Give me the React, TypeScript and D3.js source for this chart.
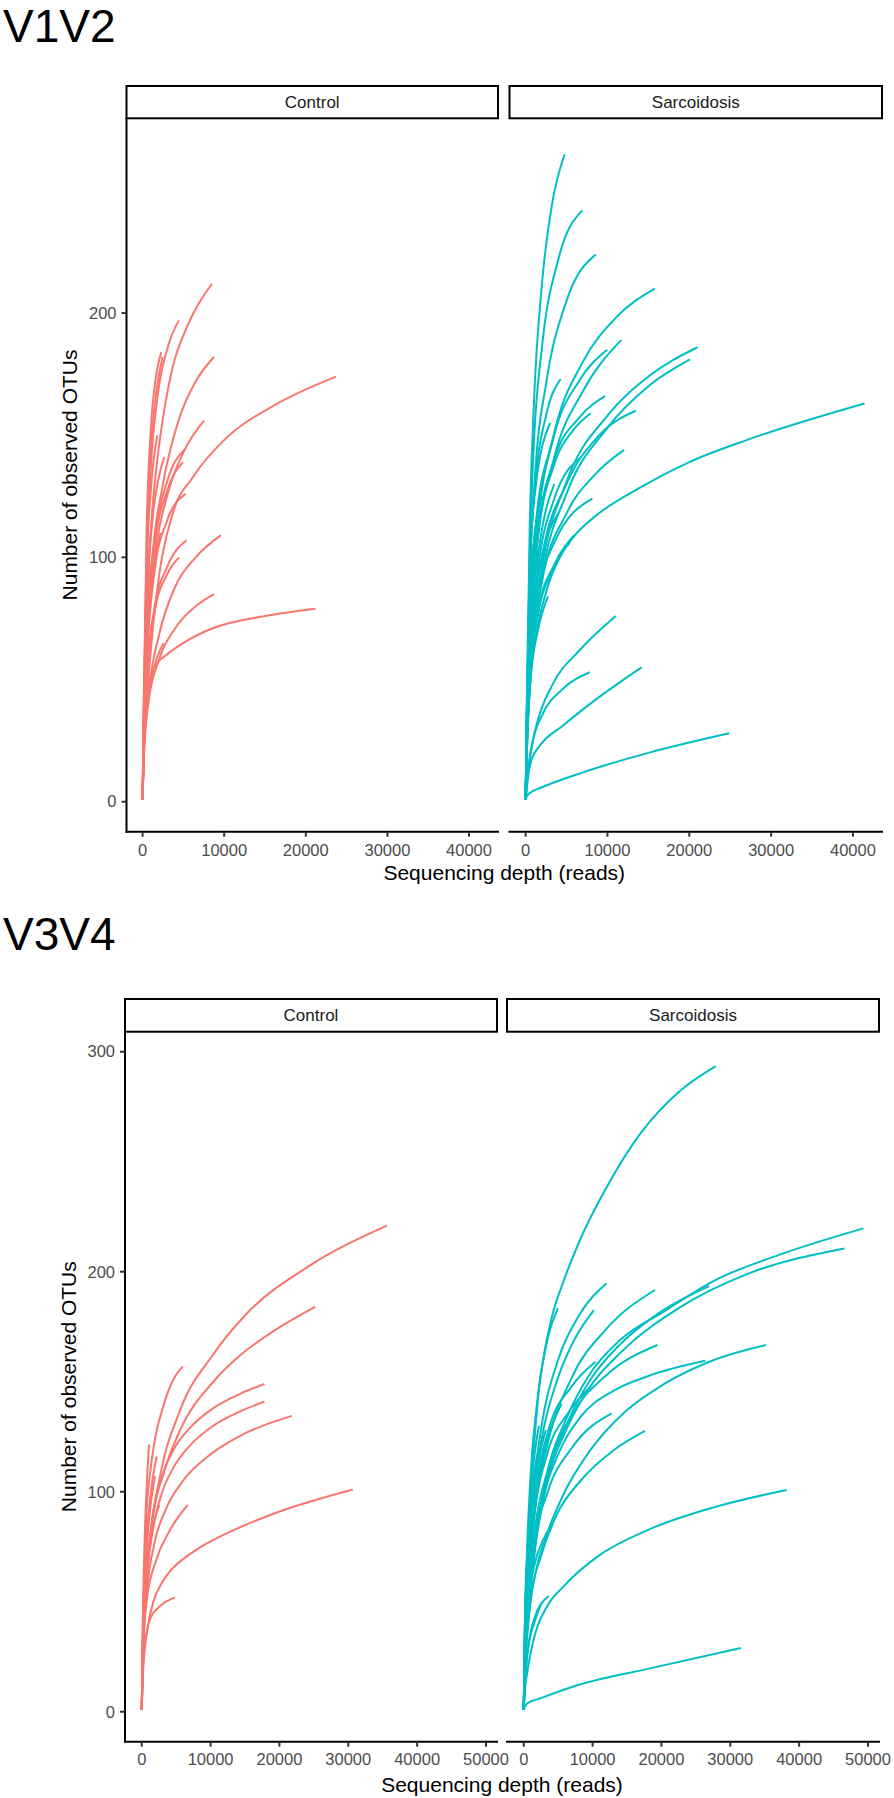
import React from 'react';
import * as d3 from 'd3';

type Pt = [number, number];
type Curve = Pt[];

const groups = ['Control', 'Sarcoidosis'];
const groupColors = ['#F8766D', '#00BFC4'];
const regionTitles = ['V1V2', 'V3V4'];
const xAxisTitle = 'Sequencing depth (reads)';
const yAxisTitle = 'Number of observed OTUs';
const v12XTicks = [0, 10000, 20000, 30000, 40000];
const v12YTicks = [0, 100, 200];
const v34XTicks = [0, 10000, 20000, 30000, 40000, 50000];
const v34YTicks = [0, 100, 200, 300];

// V1V2 – Control: [sequencing depth, observed OTUs]
const v12Control: Curve[] = [
  [[1, 1], [150, 32], [500, 78], [1100, 115], [1700, 137], [2500, 157], [3700, 178], [5400, 194], [8500, 212]],
  [[1, 1], [150, 36], [500, 96], [1000, 136], [1800, 165], [3000, 185], [4440, 197]],
  [[1, 1], [150, 42], [500, 112], [1000, 152], [1600, 173], [2300, 184]],
  [[1, 1], [150, 40], [500, 104], [1000, 143], [1700, 168], [2450, 182]],
  [[1, 1], [150, 28], [500, 64], [1200, 100], [2500, 130], [4500, 157], [6500, 172], [8760, 182]],
  [[1, 1], [150, 24], [900, 58], [2000, 92], [3700, 118], [6200, 133], [10300, 149], [16000, 162], [23700, 174]],
  [[1, 1], [150, 26], [600, 66], [1500, 100], [3000, 125], [5000, 143], [7535, 156]],
  [[1, 1], [150, 30], [600, 76], [1500, 108], [3000, 131], [5090, 144]],
  [[1, 1], [150, 32], [600, 86], [1200, 115], [2000, 133], [2645, 141]],
  [[1, 1], [150, 26], [600, 70], [1500, 105], [3000, 127], [4966, 139]],
  [[1, 1], [150, 24], [600, 62], [1500, 95], [3000, 115], [5257, 126]],
  [[1, 1], [150, 22], [600, 55], [1500, 80], [3000, 96], [5380, 107]],
  [[1, 1], [150, 22], [600, 54], [1500, 78], [3000, 93], [4474, 100]],
  [[1, 1], [150, 20], [800, 46], [2000, 68], [4000, 88], [6500, 100], [9572, 109]],
  [[1, 1], [150, 18], [700, 40], [2000, 58], [4000, 71], [6500, 80], [8753, 85]],
  [[1, 1], [150, 22], [490, 42], [900, 51], [1600, 56], [2900, 60], [5000, 65], [8600, 71], [15000, 76], [21186, 79]],
  [[1, 1], [150, 18], [600, 40], [1500, 56], [2604, 65]],
  [[1, 1], [150, 36], [500, 96], [1000, 127], [1800, 150]],
  [[1, 1], [150, 32], [500, 80], [900, 105], [1300, 120]],
  [[1, 1], [150, 28], [500, 70], [1000, 95]],
  [[1, 1], [150, 26], [600, 68], [1400, 95], [2200, 110]],
];

// V1V2 – Sarcoidosis
const v12Sarcoidosis: Curve[] = [
  [[1, 1], [150, 42], [500, 112], [1000, 162], [2000, 212], [3200, 244], [4774, 265]],
  [[1, 1], [150, 38], [500, 100], [1000, 146], [2000, 186], [4000, 222], [6935, 242]],
  [[1, 1], [150, 35], [500, 90], [1200, 136], [2500, 171], [5000, 205], [8568, 224]],
  [[1, 1], [150, 30], [600, 80], [1500, 116], [3500, 151], [7000, 180], [11000, 198], [15790, 210]],
  [[1, 1], [150, 28], [600, 75], [1500, 108], [3500, 141], [7000, 168], [11710, 189]],
  [[1, 1], [150, 30], [600, 80], [1500, 115], [3500, 150], [6500, 172], [9955, 185]],
  [[1, 1], [150, 25], [800, 66], [2000, 96], [5000, 131], [10000, 158], [15000, 174], [21010, 186]],
  [[1, 1], [150, 24], [800, 62], [2000, 92], [5000, 126], [10000, 153], [15000, 170], [20073, 181]],
  [[1, 1], [150, 36], [500, 92], [1200, 131], [2500, 158], [4284, 173]],
  [[1, 1], [150, 20], [600, 50], [1500, 72], [2800, 89], [4330, 101], [6000, 109], [8570, 117], [14200, 129], [20000, 139], [27000, 148], [41413, 163]],
  [[1, 1], [150, 28], [600, 75], [1500, 110], [3500, 140], [6500, 157], [9710, 166]],
  [[1, 1], [150, 25], [700, 68], [2000, 100], [5000, 130], [9000, 150], [13464, 160]],
  [[1, 1], [150, 28], [600, 75], [1500, 108], [3500, 138], [5800, 152], [7956, 159]],
  [[1, 1], [150, 22], [700, 60], [2000, 90], [5000, 118], [8500, 134], [12037, 144]],
  [[1, 1], [150, 25], [600, 65], [1500, 95], [3500, 124], [6813, 141]],
  [[1, 1], [150, 22], [600, 58], [1500, 84], [3500, 106], [8164, 124]],
  [[1, 1], [150, 22], [600, 55], [1500, 78], [3500, 97], [5916, 109]],
  [[1, 1], [150, 20], [600, 52], [1500, 76], [3200, 94], [5400, 106]],
  [[1, 1], [150, 8], [500, 18], [1300, 31], [3300, 48], [6600, 62], [11016, 76]],
  [[1, 1], [150, 7], [400, 15], [900, 25], [2100, 36], [4500, 46], [7833, 53]],
  [[1, 1], [150, 6], [700, 17], [1750, 23], [4500, 31], [8650, 42], [14162, 55]],
  [[1, 1], [200, 2.5], [600, 3.8], [1700, 5.5], [7000, 12], [15000, 20], [24884, 28]],
  [[1, 1], [150, 22], [600, 50], [1500, 70], [2731, 84]],
  [[1, 1], [150, 34], [500, 82], [1200, 112], [2000, 125]],
  [[1, 1], [150, 38], [500, 95], [1200, 128], [3000, 155]],
  [[1, 1], [150, 30], [500, 70], [1000, 92], [1500, 103]],
  [[1, 1], [150, 28], [600, 70], [1500, 100], [3500, 130]],
  [[1, 1], [150, 26], [500, 62], [1000, 85]],
  [[1, 1], [150, 32], [500, 80], [1200, 112], [2600, 140]],
  [[1, 1], [150, 26], [600, 64], [1500, 92], [4000, 118]],
];

// V3V4 – Control
const v34Control: Curve[] = [
  [[1, 1], [230, 33], [1200, 78], [2660, 107], [5570, 137], [10400, 162.5], [15260, 181], [24000, 202], [35610, 221]],
  [[1, 1], [200, 30], [1450, 86], [3140, 108], [5570, 128], [10400, 150], [14300, 162], [18650, 172], [25189, 184]],
  [[1, 1], [200, 40], [625, 86], [1200, 108], [1930, 124], [3140, 139], [4590, 151], [5959, 157]],
  [[1, 1], [200, 32], [800, 66], [1800, 92], [2660, 104], [4600, 119], [7000, 129], [10400, 138], [14300, 144.5], [17820, 149]],
  [[1, 1], [200, 30], [800, 62], [1800, 86], [3000, 100], [4600, 111], [7000, 121], [10400, 130], [14300, 136.5], [17820, 141]],
  [[1, 1], [200, 28], [800, 56], [1800, 76], [3500, 92], [6000, 105], [10000, 117], [15000, 126.5], [21802, 134.5]],
  [[1, 1], [230, 20], [960, 40], [1690, 50], [3000, 59], [4590, 65.5], [6500, 70.5], [9450, 76.5], [14000, 83.5], [19130, 90], [30669, 101]],
  [[1, 1], [200, 22], [700, 36], [1200, 42], [2660, 48], [4840, 52]],
  [[1, 1], [150, 40], [400, 76], [700, 101], [1061, 121.5]],
  [[1, 1], [150, 35], [500, 68], [1000, 90], [1600, 106], [2180, 116]],
  [[1, 1], [150, 32], [500, 62], [1000, 85], [1933, 107]],
  [[1, 1], [200, 28], [800, 52], [2000, 68], [4000, 82], [6686, 94]],
  [[1, 1], [150, 30], [500, 56], [1200, 76], [2558, 94]],
];

// V3V4 – Sarcoidosis
const v34Sarcoidosis: Curve[] = [
  [[1, 1], [150, 33], [495, 63], [975, 93], [1456, 119], [2183, 146], [3159, 166], [4134, 180], [5822, 196], [8253, 215], [12139, 239], [16987, 263], [22809, 282.5], [27904, 293.5]],
  [[1, 1], [150, 20], [730, 48], [1700, 78], [3400, 108], [6300, 134], [9700, 154], [14000, 169], [20400, 182], [27700, 196], [37400, 208], [49345, 219.7]],
  [[1, 1], [150, 19], [730, 46], [1700, 75], [3400, 104], [6300, 129], [9700, 148], [14000, 163], [22800, 184], [32500, 199], [46579, 210.6]],
  [[1, 1], [150, 20], [700, 47], [1700, 77], [3400, 106], [6300, 131], [9700, 151], [14000, 167], [20000, 182], [26929, 193.5]],
  [[1, 1], [150, 30], [500, 60], [1200, 95], [2500, 128], [5000, 160], [8000, 180], [11994, 194.7]],
  [[1, 1], [150, 25], [600, 55], [1500, 88], [3500, 122], [7000, 152], [12000, 174], [19069, 191.7]],
  [[1, 1], [150, 28], [500, 58], [1200, 92], [2500, 122], [5000, 152], [7500, 170], [10189, 182.6]],
  [[1, 1], [150, 38], [500, 75], [1000, 108], [2000, 142], [3500, 170], [4949, 183.4]],
  [[1, 1], [150, 22], [600, 50], [1500, 80], [3500, 110], [7000, 135], [12000, 153], [19418, 166.7]],
  [[1, 1], [150, 16], [700, 42], [1700, 63], [3400, 81], [5800, 99], [9700, 119], [14600, 136], [20400, 149], [27700, 160], [35182, 166.7]],
  [[1, 1], [150, 22], [600, 50], [1200, 72], [2430, 93], [4860, 116], [8250, 134], [13100, 146], [18000, 152.5], [26346, 159.5]],
  [[1, 1], [150, 20], [600, 48], [1500, 75], [3500, 100], [7000, 120], [12766, 135.6]],
  [[1, 1], [150, 16], [700, 42], [1200, 55], [2430, 70], [4860, 90], [8250, 105], [13100, 119], [17613, 127.7]],
  [[1, 1], [150, 9], [495, 17.5], [1456, 33], [3400, 48], [5800, 57], [10700, 70.5], [18000, 82.6], [27700, 93], [38195, 100.8]],
  [[1, 1], [200, 2.5], [500, 3.8], [2400, 6.1], [8250, 12.5], [18000, 19.5], [31543, 29]],
  [[1, 1], [150, 12], [600, 28], [1500, 42], [3639, 52.6]],
  [[1, 1], [150, 12], [600, 28], [1500, 40], [2576, 49.5]],
  [[1, 1], [150, 22], [600, 48], [1500, 66], [2800, 78], [4279, 85.6]],
  [[1, 1], [150, 26], [600, 58], [1500, 88], [3500, 118], [6500, 136], [9709, 147.7]],
  [[1, 1], [150, 28], [600, 62], [1500, 95], [3500, 127], [7000, 148], [10437, 159.1]],
  [[1, 1], [150, 30], [500, 60], [1200, 88], [2500, 112], [4949, 136.4]],
  [[1, 1], [150, 35], [500, 70], [1000, 92], [1950, 116.7]],
  [[1, 1], [150, 30], [500, 62], [1000, 88], [2000, 112], [3200, 128]],
  [[1, 1], [150, 28], [600, 60], [1500, 92], [3000, 118], [5500, 140]],
  [[1, 1], [150, 34], [500, 70], [1200, 105], [2200, 130]],
];

const FONT = '"Liberation Sans", Arial, Helvetica, sans-serif';

const blocks = [
  {
    title: regionTitles[0], titleBaseline: 42, stripTop: 86, panelTop: 118.3, panelBottom: 831.7,
    panelsX: [[126.5, 498], [509.5, 882]], xDomain: [-1970, 43550], yDomain: [-12.27, 279.7],
    xTicks: v12XTicks, yTicks: v12YTicks, tickLabelBaseline: 855.5, xTitleBaseline: 880, yTitleX: 77,
    series: [v12Control, v12Sarcoidosis],
  },
  {
    title: regionTitles[1], titleBaseline: 950, stripTop: 999, panelTop: 1031.7, panelBottom: 1741.7,
    panelsX: [[125, 497], [507, 879]], xDomain: [-2430, 51600], yDomain: [-13.6, 309.1],
    xTicks: v34XTicks, yTicks: v34YTicks, tickLabelBaseline: 1765, xTitleBaseline: 1791.5, yTitleX: 75.5,
    series: [v34Control, v34Sarcoidosis],
  },
];

function Block({ b }: { b: typeof blocks[number] }) {
  const ys = d3.scaleLinear().domain(b.yDomain).range([b.panelBottom, b.panelTop]);
  const left = b.panelsX[0][0];
  const right = b.panelsX[1][1];
  const yMid = (b.panelTop + b.panelBottom) / 2;
  return (
    <g>
      <text x={3} y={b.titleBaseline} fontSize={46} fontFamily={FONT} fill="#000">{b.title}</text>
      {b.panelsX.map((px, i) => {
        const xs = d3.scaleLinear().domain(b.xDomain).range(px);
        const line = d3.line<Pt>().x(d => xs(d[0])).y(d => ys(d[1])).curve(d3.curveMonotoneX);
        return (
          <g key={i}>
            <rect x={px[0]} y={b.stripTop} width={px[1] - px[0]} height={b.panelTop - b.stripTop}
              fill="#fff" stroke="#000" strokeWidth={2} />
            <text x={(px[0] + px[1]) / 2} y={(b.stripTop + b.panelTop) / 2} dy="0.35em" textAnchor="middle"
              fontSize={17} fontFamily={FONT} fill="#1A1A1A">{groups[i]}</text>
            <g fill="none" stroke={groupColors[i]} strokeWidth={2} strokeLinejoin="round">
              {b.series[i].map((c, k) => <path key={k} d={line(c) || ''} />)}
            </g>
            <line x1={px[0]} x2={px[1]} y1={b.panelBottom} y2={b.panelBottom} stroke="#000" strokeWidth={2} strokeLinecap="square" />
            {b.xTicks.map(t => (
              <g key={t}>
                <line x1={xs(t)} x2={xs(t)} y1={b.panelBottom} y2={b.panelBottom + 5} stroke="#333" strokeWidth={2} />
                <text x={xs(t)} y={b.tickLabelBaseline} textAnchor="middle" fontSize={16.5} fontFamily={FONT} fill="#4D4D4D">{t}</text>
              </g>
            ))}
            {i === 0 && (
              <g>
                <line x1={px[0]} x2={px[0]} y1={b.panelTop} y2={b.panelBottom} stroke="#000" strokeWidth={2} strokeLinecap="square" />
                {b.yTicks.map(t => (
                  <g key={t}>
                    <line x1={px[0] - 5} x2={px[0]} y1={ys(t)} y2={ys(t)} stroke="#333" strokeWidth={2} />
                    <text x={px[0] - 10} y={ys(t)} dy="0.35em" textAnchor="end" fontSize={16.5} fontFamily={FONT} fill="#4D4D4D">{t}</text>
                  </g>
                ))}
              </g>
            )}
          </g>
        );
      })}
      <text x={(left + right) / 2} y={b.xTitleBaseline} textAnchor="middle" fontSize={21} fontFamily={FONT} fill="#000">{xAxisTitle}</text>
      <text transform={`translate(${b.yTitleX},${yMid}) rotate(-90)`} textAnchor="middle" fontSize={21} fontFamily={FONT} fill="#000">{yAxisTitle}</text>
    </g>
  );
}

export default function App() {
  return (
    <svg width={894} height={1798} viewBox="0 0 894 1798"
      style={{ position: 'absolute', left: 0, top: 0, display: 'block', background: '#fff' }}>
      <rect x={0} y={0} width={894} height={1798} fill="#fff" />
      {blocks.map((b, i) => <Block key={i} b={b} />)}
    </svg>
  );
}
